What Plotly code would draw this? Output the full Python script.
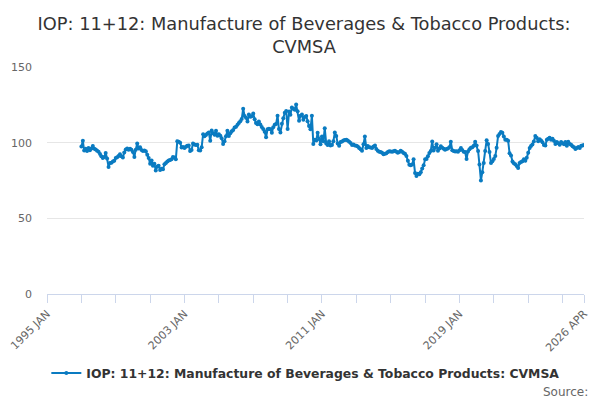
import pandas as pd
import plotly.graph_objects as go

# monthly index values (1997 JAN .. 2026 APR)
y1997 = [97.5, 101.2, 94.8, 96.0, 94.5, 96.5, 95.0, 96.2, 97.8, 96.0, 95.5, 94.6]
y1998 = [94.0, 92.5, 91.0, 89.8, 90.5, 93.2, 89.5, 84.0, 86.5, 86.8, 87.5, 88.0]
y1999 = [89.8, 90.4, 91.2, 92.4, 91.0, 90.2, 93.5, 95.5, 96.2, 95.4, 96.0, 95.3]
y2000 = [93.8, 90.6, 95.4, 99.5, 96.2, 97.0, 95.1, 94.5, 94.8, 94.3, 92.0, 89.8]
y2001 = [86.0, 88.2, 84.8, 86.0, 81.6, 84.2, 84.8, 82.0, 82.8, 82.4, 85.8, 86.5]
y2002 = [87.6, 88.2, 88.5, 89.0, 90.6, 90.2, 89.0, 101.0, 100.6, 100.0, 96.8, 97.2]
y2003 = [96.5, 97.3, 98.0, 98.2, 94.5, 95.2, 99.5, 98.8, 98.4, 98.6, 95.0, 94.8]
y2004 = [97.0, 105.6, 104.2, 105.0, 106.0, 106.8, 101.2, 108.0, 106.2, 105.3, 107.8, 104.5]
y2005 = [105.6, 104.6, 103.0, 99.2, 101.0, 104.2, 107.8, 104.4, 106.2, 107.6, 108.4, 110.0]
y2006 = [110.6, 111.8, 113.0, 114.2, 115.6, 122.4, 117.6, 116.4, 114.0, 118.6, 117.2, 117.5]
y2007 = [119.2, 115.5, 113.0, 112.2, 114.0, 112.0, 110.4, 109.0, 107.2, 103.5, 108.8, 109.2]
y2008 = [108.8, 106.6, 110.2, 111.8, 112.4, 117.8, 109.0, 106.8, 112.5, 116.2, 119.8, 121.0]
y2009 = [109.0, 120.6, 118.4, 123.2, 122.4, 121.8, 125.2, 120.8, 114.4, 117.8, 118.6, 115.2]
y2010 = [117.0, 117.6, 114.2, 111.0, 108.8, 117.8, 99.2, 102.0, 101.5, 106.6, 102.5, 99.0]
y2011 = [104.0, 101.0, 109.6, 99.5, 98.5, 101.0, 98.2, 98.5, 101.0, 106.8, 104.4, 99.5]
y2012 = [98.0, 100.4, 100.8, 101.4, 101.8, 102.0, 101.5, 100.6, 99.8, 98.5, 98.8, 98.2]
y2013 = [98.0, 97.5, 96.5, 95.6, 94.6, 99.0, 104.0, 96.5, 97.8, 97.0, 96.8, 96.5]
y2014 = [97.5, 98.2, 95.8, 94.6, 94.0, 93.8, 93.4, 92.4, 92.6, 93.0, 93.8, 94.4]
y2015 = [94.2, 94.0, 94.3, 94.6, 94.0, 93.4, 93.8, 94.6, 94.0, 93.2, 92.6, 91.2]
y2016 = [88.0, 85.4, 85.0, 85.6, 89.0, 80.0, 78.0, 79.4, 79.2, 80.5, 83.0, 85.0]
y2017 = [89.0, 89.2, 91.0, 93.2, 94.5, 100.8, 94.8, 96.6, 99.0, 94.6, 96.2, 97.6]
y2018 = [96.6, 96.0, 95.4, 95.8, 96.2, 97.0, 100.6, 95.0, 94.5, 94.2, 94.4, 94.0]
y2019 = [95.0, 96.4, 95.2, 94.0, 93.8, 89.2, 94.2, 95.6, 96.6, 97.0, 98.0, 100.6]
y2020 = [98.2, 94.5, 85.5, 75.0, 80.5, 86.5, 94.5, 101.6, 99.2, 93.8, 86.5, 87.8]
y2021 = [89.2, 91.2, 96.6, 104.4, 105.8, 107.0, 106.6, 104.0, 102.0, 102.0, 101.2, 93.0]
y2022 = [91.6, 87.5, 86.4, 85.8, 84.6, 83.2, 86.6, 87.2, 87.8, 89.0, 88.0, 90.0]
y2023 = [93.4, 96.5, 97.8, 98.8, 100.8, 104.4, 103.2, 101.0, 102.2, 101.5, 100.2, 98.4]
y2024 = [98.2, 102.0, 102.6, 103.2, 102.0, 102.6, 101.2, 99.2, 100.4, 99.6, 98.6, 100.4]
y2025 = [99.6, 99.0, 100.4, 98.0, 100.6, 99.2, 98.6, 97.6, 97.0, 95.8, 96.5, 97.2]
y2026 = [96.5, 98.0, 98.2, 98.5]

values = (y1997 + y1998 + y1999 + y2000 + y2001 + y2002 + y2003 + y2004 + y2005
          + y2006 + y2007 + y2008 + y2009 + y2010 + y2011 + y2012 + y2013 + y2014
          + y2015 + y2016 + y2017 + y2018 + y2019 + y2020 + y2021 + y2022 + y2023
          + y2024 + y2025 + y2026)
dates = pd.date_range("1997-01-01", periods=len(values), freq="MS")

series_name = "IOP: 11+12: Manufacture of Beverages & Tobacco Products: CVMSA"

tick_dates = list(pd.date_range("1995-01-01", "2025-01-01", freq="24MS")) + [pd.Timestamp("2026-04-01")]
tick_labels = ["1995 JAN", "", "", "", "2003 JAN", "", "", "", "2011 JAN", "", "", "",
               "2019 JAN", "", "", "", "2026 APR"]

fig = go.Figure()
fig.add_trace(go.Scatter(x=dates, y=values, mode="lines+markers", name=series_name,
                         line=dict(color="#0a7bc1", width=2),
                         marker=dict(color="#0a7bc1", size=4)))

# page body adds an 8px margin, so the figure is 8px smaller each way
fig.update_layout(
    width=592, height=392,
    paper_bgcolor="white", plot_bgcolor="white",
    margin=dict(l=39, r=16, t=59, b=106),
    font=dict(family="DejaVu Sans", color="#666666", size=11),
    title=dict(text="IOP: 11+12: Manufacture of Beverages & Tobacco Products:<br>CVMSA",
               x=0.5, xanchor="center", y=0.945, yanchor="middle",
               font=dict(size=17.8, color="#333333")),
    showlegend=True,
    legend=dict(orientation="h", x=0.482, xanchor="center", y=-0.35, yanchor="middle",
                font=dict(size=12.4, color="#333333", weight="bold")),
)
fig.update_xaxes(range=[pd.Timestamp("1995-01-01"), pd.Timestamp("2026-04-01")],
                 tickvals=tick_dates, ticktext=tick_labels, tickangle=-45,
                 showgrid=False, showline=True, linecolor="#ccd6eb", linewidth=1,
                 ticks="outside", ticklen=8, tickcolor="#ccd6eb", zeroline=False,
                 automargin=False)
fig.update_yaxes(range=[0, 150], tickvals=[0, 50, 100, 150], showgrid=True,
                 gridcolor="#e6e6e6", zeroline=False, showline=False, ticks="",
                 ticklabelstandoff=14, automargin=False)
fig.add_annotation(text="Source:", xref="paper", yref="paper", x=1.011, y=-0.43,
                   xanchor="right", yanchor="middle", showarrow=False,
                   font=dict(size=12, color="#666666"))

fig.write_html("out.html")
